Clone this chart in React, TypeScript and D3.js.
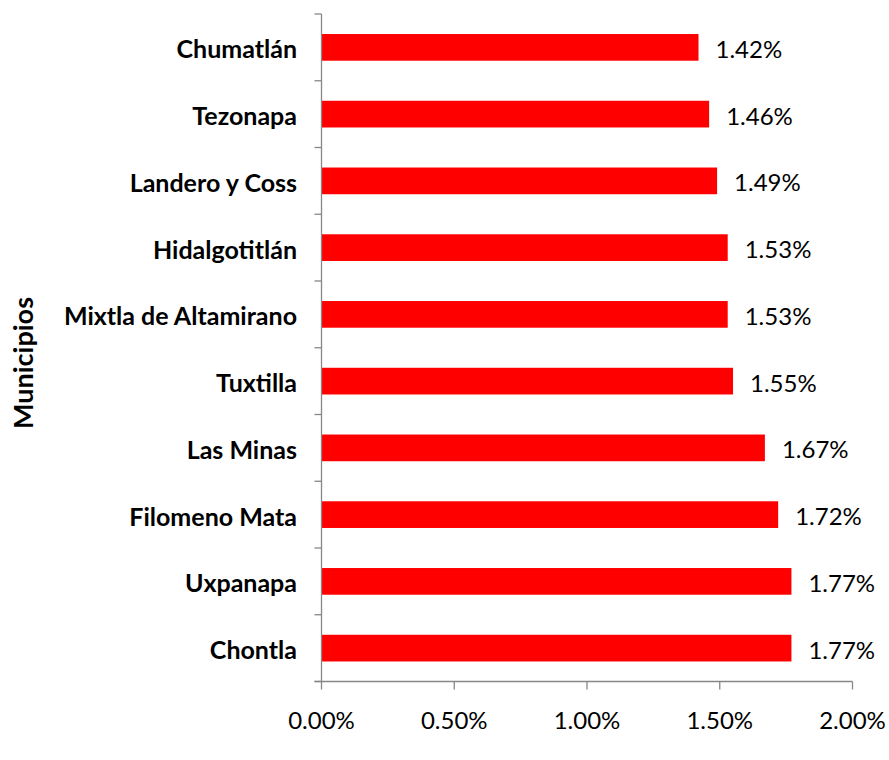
import React from "react";
import * as d3 from "d3";

const categories = ["Chumatlán", "Tezonapa", "Landero y Coss", "Hidalgotitlán", "Mixtla de Altamirano", "Tuxtilla", "Las Minas", "Filomeno Mata", "Uxpanapa", "Chontla"];
const values = [1.42, 1.46, 1.49, 1.53, 1.53, 1.55, 1.67, 1.72, 1.77, 1.77];
const xTicks = [0, 0.5, 1, 1.5, 2];
const axisTitle = "Municipios";

const W = 889, H = 760;
const left = 321.5, right = 852.5, top = 14, bottom = 681.5;
const font = "Lato, 'Open Sans', sans-serif";
const axisColor = "#878787";

export default function App() {
  const x = d3.scaleLinear().domain([0, 2]).range([left, right]);
  const y = d3.scaleBand<string>().domain(categories).range([top, bottom]).paddingInner(0.6).paddingOuter(0.3);
  const step = y.step();
  return (
    <svg width={W} height={H} style={{ position: "absolute", left: 0, top: 0 }}>
      <rect width={W} height={H} fill="#fff" />
      {categories.map((c, i) => (
        <g key={c}>
          <rect x={x(0)} y={y(c)!} width={x(values[i]) - x(0)} height={y.bandwidth()} fill="#FF0000" />
          <text x={x(values[i]) + 17} y={y(c)! + y.bandwidth() / 2 + 1} dominantBaseline="central" fontFamily={font} fontSize={24} fill="#000">
            {values[i].toFixed(2) + "%"}
          </text>
          <text x={297} y={y(c)! + y.bandwidth() / 2 + 1} dominantBaseline="central" textAnchor="end" fontFamily={font} fontSize={25} fontWeight="bold" fill="#000">
            {c}
          </text>
        </g>
      ))}
      {/* y axis */}
      <line x1={left} x2={left} y1={top} y2={bottom} stroke={axisColor} strokeWidth={1.3} />
      {d3.range(categories.length + 1).map((k) => (
        <line key={k} x1={left - 7} x2={left} y1={top + k * step} y2={top + k * step} stroke={axisColor} strokeWidth={1.3} />
      ))}
      {/* x axis */}
      <line x1={left - 7} x2={right} y1={bottom} y2={bottom} stroke={axisColor} strokeWidth={1.3} />
      {xTicks.map((t) => (
        <g key={t}>
          <line x1={x(t)} x2={x(t)} y1={bottom} y2={bottom + 8} stroke={axisColor} strokeWidth={1.3} />
          <text x={x(t)} y={719} textAnchor="middle" dominantBaseline="central" fontFamily={font} fontSize={24} fill="#000">
            {t.toFixed(2) + "%"}
          </text>
        </g>
      ))}
      <text transform={`translate(22,${363}) rotate(-90)`} textAnchor="middle" dominantBaseline="central" fontFamily={font} fontSize={27} fontWeight="bold" fill="#000">
        {axisTitle}
      </text>
    </svg>
  );
}
